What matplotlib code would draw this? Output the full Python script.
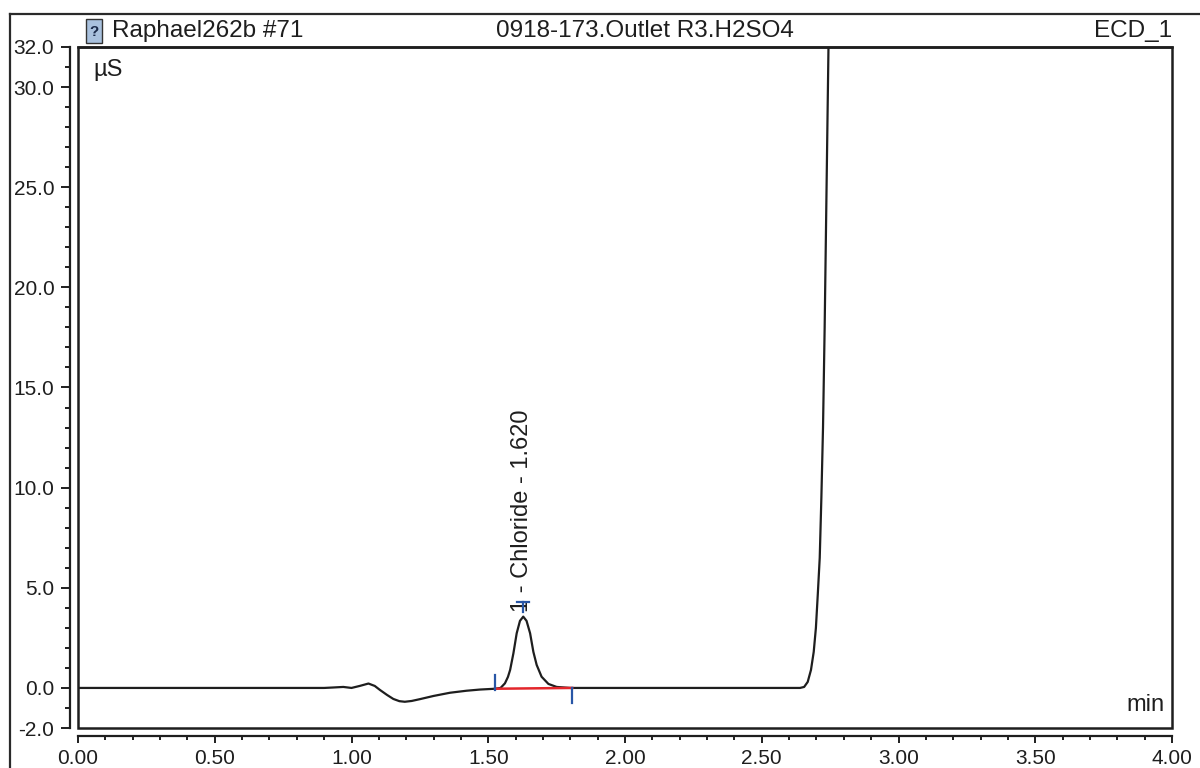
import matplotlib
matplotlib.use("Agg")
import matplotlib.pyplot as plt
from matplotlib.patches import Rectangle
from matplotlib.lines import Line2D
from matplotlib.ticker import MultipleLocator, FixedLocator

plt.rcParams['font.family'] = ['Liberation Sans', 'DejaVu Sans']

# ---- data ----
time_min = [0.00, 0.90, 0.93, 0.97, 1.00, 1.03, 1.062, 1.085, 1.104, 1.13, 1.153,
            1.175, 1.195, 1.22, 1.25, 1.30, 1.36, 1.42, 1.47, 1.525, 1.545,
            1.561, 1.572, 1.580, 1.592, 1.604, 1.616, 1.628, 1.640, 1.653, 1.665,
            1.677, 1.695, 1.720, 1.750, 1.80, 2.00, 2.40, 2.64, 2.655, 2.668,
            2.680, 2.690, 2.698, 2.705, 2.712, 2.718, 2.724, 2.730, 2.736, 2.742, 2.748]
signal_uS = [0.0, 0.0, 0.02, 0.05, 0.0, 0.1, 0.22, 0.1, -0.1, -0.35, -0.55,
             -0.66, -0.69, -0.65, -0.56, -0.40, -0.24, -0.14, -0.08, -0.04, 0.0,
             0.23, 0.55, 0.9, 1.73, 2.73, 3.35, 3.56, 3.35, 2.73, 1.8,
             1.15, 0.56, 0.2, 0.05, 0.0, 0.0, 0.0, 0.0, 0.05, 0.3,
             0.9, 1.8, 3.0, 4.7, 6.5, 9.5, 13.0, 18.0, 24.0, 30.0, 36.0]

peak_label = "1 - Chloride - 1.620"
peak_time = 1.628
peak_height = 3.56
peak_start = (1.525, -0.04)
peak_end = (1.807, 0.0)

y_major = [-2.0, 0.0, 5.0, 10.0, 15.0, 20.0, 25.0, 30.0, 32.0]
x_major = [0.00, 0.50, 1.00, 1.50, 2.00, 2.50, 3.00, 3.50, 4.00]

title_left = "Raphael262b #71"
title_center = "0918-173.Outlet R3.H2SO4"
title_right = "ECD_1"

# ---- figure ----
W, H = 1200, 768
fig = plt.figure(figsize=(12, 7.68), dpi=100)
fig.patch.set_facecolor('white')

def fx(px):
    return px / W

def fy(py):
    return 1 - py / H

ax = fig.add_axes([fx(78), fy(728), fx(1172) - fx(78), fy(47) - fy(728)])
ax.set_xlim(0, 4)
ax.set_ylim(-2, 32)

ax.plot(time_min, signal_uS, color='#1e1e1e', lw=1.6, solid_joinstyle='round', zorder=3)

# baseline + peak markers
blue = '#2856a6'
ax.plot([peak_start[0], peak_end[0]], [peak_start[1], peak_end[1]], color='#e3262b', lw=1.8, zorder=4)
ax.plot([peak_start[0], peak_start[0]], [-0.1, 0.65], color=blue, lw=1.6, zorder=5)
ax.plot([peak_end[0], peak_end[0]], [0.0, -0.75], color=blue, lw=1.6, zorder=5)
ax.plot([peak_time - 0.022, peak_time + 0.022], [4.31, 4.31], color=blue, lw=1.6, zorder=5)
ax.plot([peak_time, peak_time], [4.31, 3.78], color=blue, lw=1.6, zorder=5)
ax.text(peak_time - 0.005, 3.8, peak_label, rotation=90, ha='center', va='bottom',
        fontsize=17, color='#1e1e1e')

# axes styling
for s in ['top', 'right']:
    ax.spines[s].set_visible(False)
off = 8 * 72 / 100
ax.spines['left'].set_position(('outward', off))
ax.spines['bottom'].set_position(('outward', off))
for s in ['left', 'bottom']:
    ax.spines[s].set_linewidth(1.6)
    ax.spines[s].set_color('#1e1e1e')

ax.add_patch(Rectangle((0, 0), 1, 1, transform=ax.transAxes, fill=False,
                       lw=1.8, edgecolor='#1e1e1e', clip_on=False, zorder=6))

ax.yaxis.set_major_locator(FixedLocator(y_major))
ax.yaxis.set_minor_locator(MultipleLocator(1.0))
ax.set_yticklabels([f"{v:.1f}" for v in y_major])
ax.xaxis.set_major_locator(FixedLocator(x_major))
ax.xaxis.set_minor_locator(MultipleLocator(0.1))
ax.set_xticklabels([f"{v:.2f}" for v in x_major])

ax.tick_params(axis='y', which='major', direction='out', length=6.5, width=1.4,
               labelsize=15, pad=4.8, colors='#1e1e1e')
ax.tick_params(axis='y', which='minor', direction='out', length=3.4, width=1.4, colors='#1e1e1e')
ax.tick_params(axis='x', which='major', direction='out', length=5.0, width=1.4,
               labelsize=15, pad=4.5, colors='#1e1e1e')
ax.tick_params(axis='x', which='minor', direction='out', length=3.0, width=1.4, colors='#1e1e1e')

ax.text(fx(93) - fx(78), 0, "", transform=ax.transAxes)
fig.text(fx(93), fy(70), "µS", fontsize=17, ha='left', va='center', color='#1e1e1e')
fig.text(fx(1165), fy(705), "min", fontsize=17, ha='right', va='center', color='#1e1e1e')

# header strip
fig.add_artist(Line2D([fx(10), 1.0], [fy(14), fy(14)], color='#2a2a2a', lw=1.6))
fig.add_artist(Line2D([fx(10), fx(10)], [0.0, fy(14)], color='#2a2a2a', lw=1.6))
fig.add_artist(Line2D([fx(78), fx(1172)], [fy(47), fy(47)], color='#1e1e1e', lw=1.8))
fig.add_artist(Rectangle((fx(86), fy(43)), fx(16), 24 / H, facecolor='#a9c1de',
                         edgecolor='#333333', lw=1.0))
fig.text(fx(94), fy(32), "?", fontsize=11, ha='center', va='center', color='#1a2a4a',
         fontweight='bold')
fig.text(fx(112), fy(31), title_left, fontsize=17.5, ha='left', va='center', color='#1e1e1e')
fig.text(fx(645), fy(31), title_center, fontsize=17.5, ha='center', va='center', color='#1e1e1e')
fig.text(fx(1172), fy(31), title_right, fontsize=17.5, ha='right', va='center', color='#1e1e1e')

fig.savefig("out.png", dpi=100, facecolor='white')
